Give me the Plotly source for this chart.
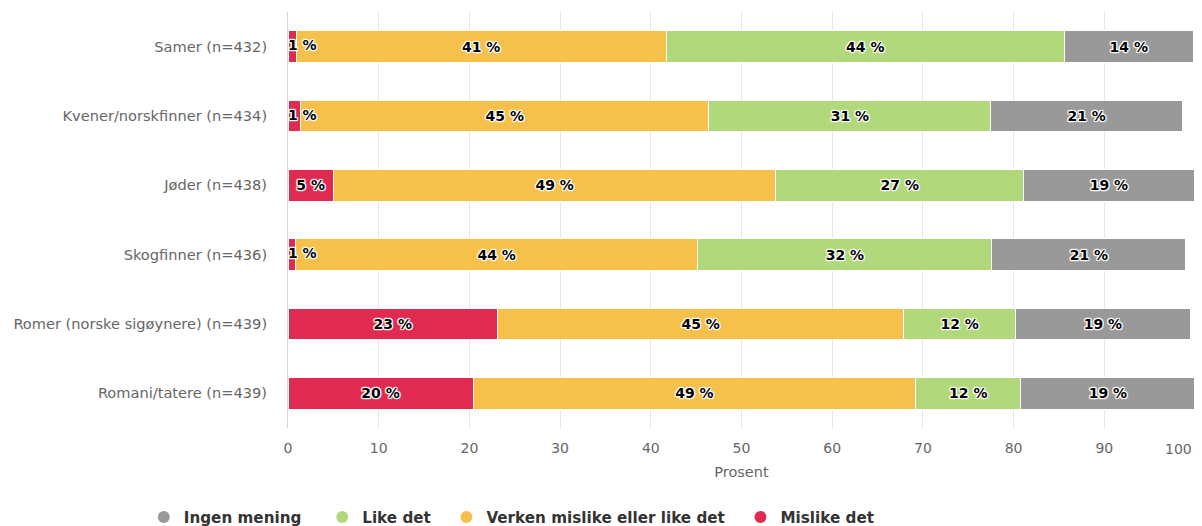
import plotly.graph_objects as go

categories = ["Samer (n=432)", "Kvener/norskfinner (n=434)", "Jøder (n=438)",
              "Skogfinner (n=436)", "Romer (norske sigøynere) (n=439)", "Romani/tatere (n=439)"]
mislike = [0.9, 1.4, 5.0, 0.8, 23.1, 20.4]
verken = [40.8, 45.0, 48.8, 44.4, 44.8, 48.8]
like = [43.9, 31.1, 27.3, 32.4, 12.3, 11.6]
ingen = [14.2, 21.1, 18.8, 21.4, 19.3, 19.2]
x_ticks = [0, 10, 20, 30, 40, 50, 60, 70, 80, 90, 100]
# last tick label is drawn separately, right-aligned to its gridline so it stays inside the chart
x_ticktext = [str(t) for t in x_ticks[:-1]] + [""]

series = [
    ("Mislike det", mislike, "#e02a51"),
    ("Verken mislike eller like det", verken, "#f5c14b"),
    ("Like det", like, "#b1d97c"),
    ("Ingen mening", ingen, "#999999"),
]
legend_pad = {"Ingen mening": 3, "Like det": 2, "Verken mislike eller like det": 2, "Mislike det": 0}

outline = ("1px 0px 1px white, -1px 0px 1px white, 0px 1px 1px white, 0px -1px 1px white, "
           "1px 1px 1px white, -1px -1px 1px white, 1px -1px 1px white, -1px 1px 1px white")
label_font = dict(family="DejaVu Sans", size=14, color="black", weight="bold", shadow=outline)

fig = go.Figure()
for name, vals, color in series:
    is_red = vals is mislike
    fig.add_trace(go.Bar(
        y=categories, x=vals, name=name, orientation="h",
        marker=dict(color=color, line=dict(color="white", width=1)),
        text=[("" if (is_red and v <= 3) else f"{round(v)} %") for v in vals],
        textposition="inside", insidetextanchor="middle", textangle=0,
        textfont=label_font,
        showlegend=False, hoverinfo="x+y",
    ))

# labels for red segments too narrow to hold their text: placed from the axis start
small = [(c, v) for c, v in zip(categories, mislike) if v <= 3]
fig.add_trace(go.Scatter(
    y=[c for c, v in small],
    x=[0 for c, v in small],
    mode="text",
    text=[f"{round(v)} %" for c, v in small],
    textposition="middle right",
    textfont=label_font,
    showlegend=False, hoverinfo="skip", cliponaxis=False,
))

for name, vals, color in reversed(series):
    fig.add_trace(go.Scatter(
        x=[None], y=[None], mode="markers", name=name + "\u00a0" * legend_pad[name],
        marker=dict(color=color, size=17, symbol="circle"),
        showlegend=True,
    ))

fig.add_annotation(
    x=x_ticks[-1], xref="x", y=0, yref="paper",
    text=str(x_ticks[-1]), showarrow=False,
    xanchor="right", yanchor="middle", xshift=-1, yshift=-21,
    font=dict(family="DejaVu Sans", size=14, color="#666666"),
)

fig.update_layout(
    barmode="stack",
    bargap=0.54,
    width=1194, height=534,
    margin=dict(l=280, r=7, t=4, b=114),
    paper_bgcolor="white", plot_bgcolor="white",
    font=dict(family="DejaVu Sans", color="#666666", size=14),
    legend=dict(orientation="h", x=-0.159, xanchor="left", y=-0.214, yanchor="middle",
                font=dict(family="DejaVu Sans", size=15.2, color="#333333", weight="bold"),
                itemsizing="constant", traceorder="normal", itemwidth=30,
                bgcolor="rgba(0,0,0,0)"),
    xaxis=dict(range=[0, 100], tickvals=x_ticks, ticktext=x_ticktext,
               showgrid=True, gridcolor="#e6e6e6",
               gridwidth=1, zeroline=False, ticks="", ticklabelstandoff=10,
               automargin=False,
               tickfont=dict(size=14, color="#666666"),
               title=dict(text="Prosent", font=dict(size=14.5, color="#666666"), standoff=11)),
    yaxis=dict(autorange="reversed", showline=True, linecolor="#ccd6eb", linewidth=1,
               ticks="", automargin=False, tickfont=dict(size=14.6, color="#666666"),
               ticklabelstandoff=17),
)

fig.write_html("out.html")
